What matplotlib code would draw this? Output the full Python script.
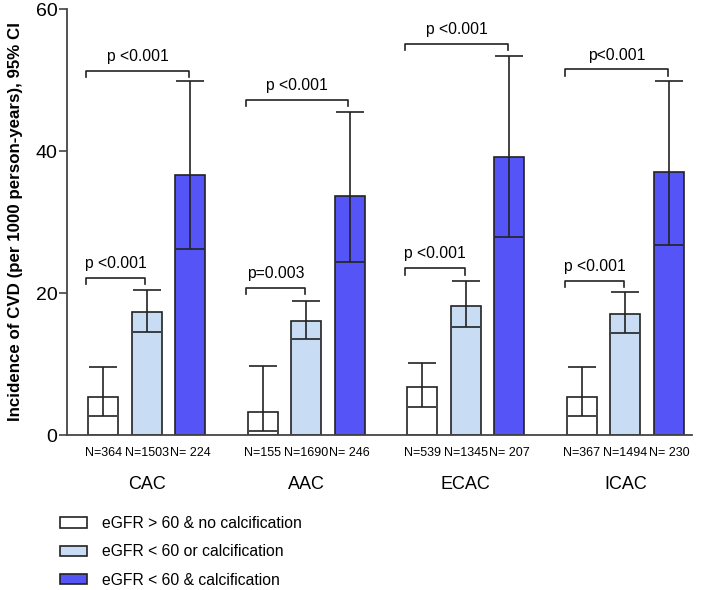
import matplotlib.pyplot as plt
import numpy as np
from matplotlib.patches import Patch

plt.rcParams['font.family'] = ['Liberation Sans', 'DejaVu Sans']

groups = ['CAC', 'AAC', 'ECAC', 'ICAC']
series = ['eGFR > 60 & no calcification', 'eGFR < 60 or calcification', 'eGFR < 60 & calcification']
colors = ['#ffffff', '#c8dcf4', '#5555f7']

# incidence per 1000 person-years, [group][series]
rate = [[5.4, 17.3, 36.6],
        [3.3, 16.1, 33.7],
        [6.7, 18.2, 39.2],
        [5.4, 17.1, 37.1]]
ci_low = [[2.7, 14.5, 26.2],
          [0.6, 13.5, 24.3],
          [4.0, 15.2, 27.9],
          [2.7, 14.4, 26.8]]
ci_high = [[9.6, 20.4, 49.8],
           [9.7, 18.9, 45.5],
           [10.2, 21.7, 53.4],
           [9.6, 20.2, 49.9]]
n_labels = [['N=364', 'N=1503', 'N= 224'],
            ['N=155', 'N=1690', 'N= 246'],
            ['N=539', 'N=1345', 'N= 207'],
            ['N=367', 'N=1494', 'N= 230']]

# comparisons: (group, from series, to series, bracket height, label)
brackets = [(0, 0, 2, 51.3, 'p <0.001'), (0, 0, 1, 22.1, 'p <0.001'),
            (1, 0, 2, 47.2, 'p <0.001'), (1, 0, 1, 20.7, 'p=0.003'),
            (2, 0, 2, 55.1, 'p <0.001'), (2, 0, 1, 23.5, 'p <0.001'),
            (3, 0, 2, 51.5, 'p<0.001'), (3, 0, 1, 21.7, 'p <0.001')]

fig = plt.figure(figsize=(7.09, 5.90), dpi=100)
ax = fig.add_axes([67/709, 1 - 435/590, (692 - 67)/709, (435 - 9)/590])

gap = 3.67
width = 0.69
rate = np.array(rate)
lo = np.array(ci_low)
hi = np.array(ci_high)

for s in range(3):
    x = np.arange(4) * gap + s
    ax.bar(x, rate[:, s], width=width, color=colors[s], edgecolor='#222222',
           linewidth=1.2, label=series[s], zorder=2)
    ax.errorbar(x, rate[:, s], yerr=[rate[:, s] - lo[:, s], hi[:, s] - rate[:, s]],
                fmt='none', ecolor='#222222', elinewidth=1.2, capsize=10,
                capthick=1.2, zorder=3)
    for g in range(4):
        ax.text(x[g], -2.5, n_labels[g][s], ha='center', va='center', fontsize=9)

for g in range(4):
    ax.text(g * gap + 1, -7.0, groups[g], ha='center', va='center', fontsize=13)

for g, a, b, h, lab in brackets:
    x0 = g * gap + a - 0.39
    x1 = g * gap + b - 0.03
    ax.plot([x0, x0, x1, x1], [h - 0.9, h, h, h - 0.9], color='#222222', lw=1.2)
    ax.text((x0 + x1) / 2, h + 2.0, lab, ha='center', va='center', fontsize=11.3)

ax.set_xlim(-0.83, 13.54)
ax.set_ylim(0, 60)
ax.set_yticks([0, 20, 40, 60])
ax.set_xticks([])
ax.tick_params(axis='y', labelsize=14, length=6, width=1.2, color='#444444', pad=1)
for side in ['top', 'right']:
    ax.spines[side].set_visible(False)
for side in ['left', 'bottom']:
    ax.spines[side].set_color('#444444')
    ax.spines[side].set_linewidth(1.3)
ax.set_ylabel('Incidence of CVD (per 1000 person-years), 95% CI',
              fontsize=12.2, fontweight='bold', labelpad=9)

handles = [Patch(facecolor=colors[s], edgecolor='#222222', linewidth=1.2) for s in range(3)]
fig.legend(handles, series, loc='upper left', bbox_to_anchor=(46/709, 1 - 502/590),
           frameon=False, fontsize=11.3, handlelength=1.72, handleheight=0.64,
           handletextpad=0.95, labelspacing=0.85)

fig.savefig('out.png', dpi=100)
